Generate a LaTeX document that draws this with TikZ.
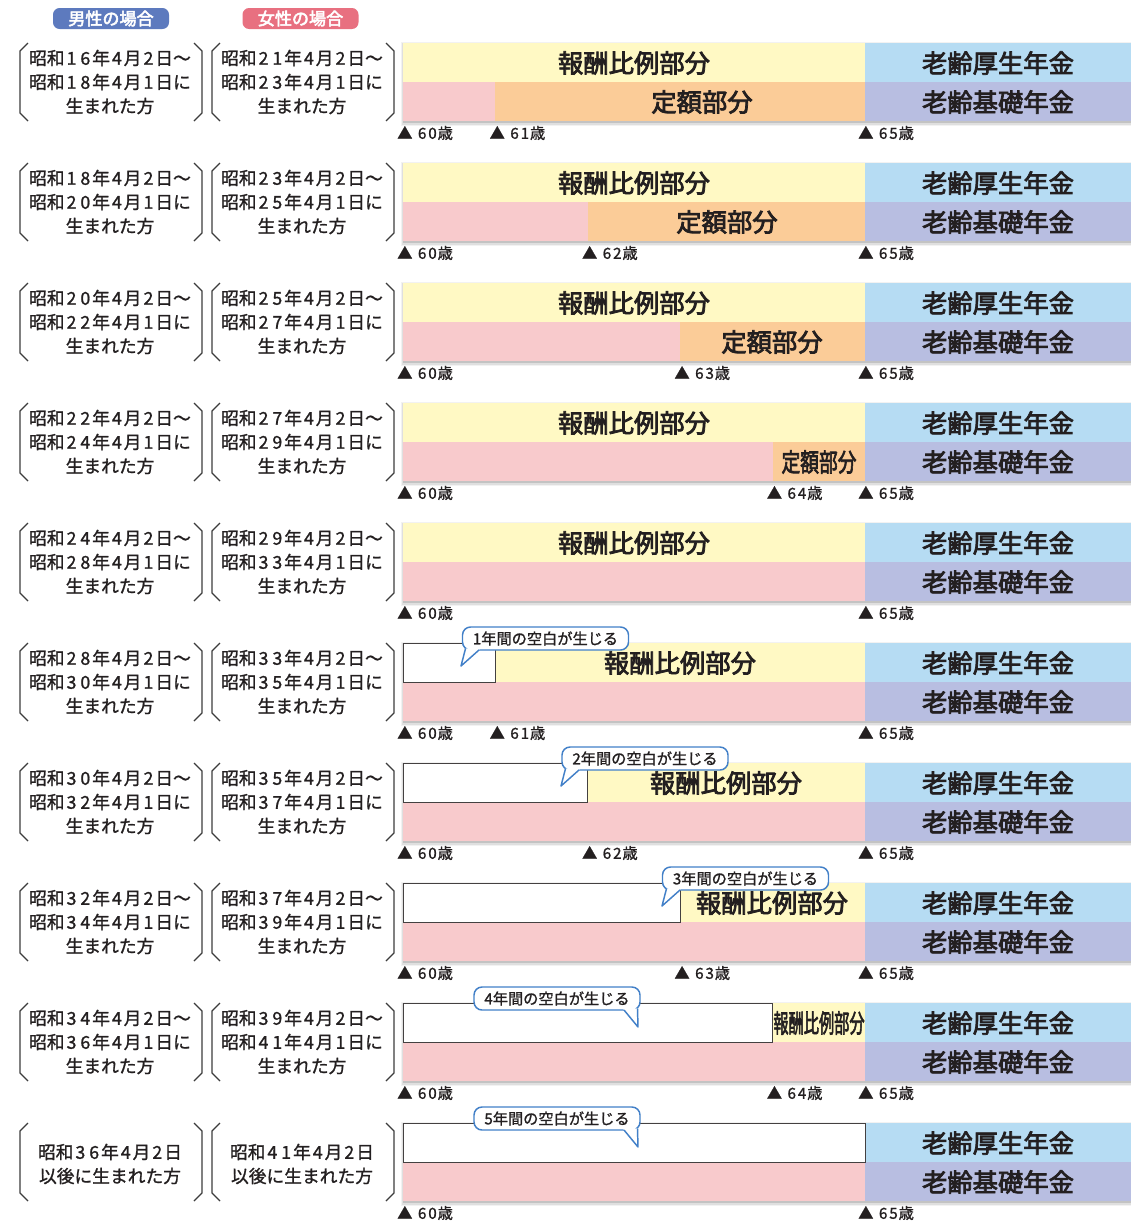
\documentclass[tikz,border=0pt]{standalone}
\usepackage{fontspec}
\usepackage{graphicx}
\setmainfont{Noto Sans CJK JP}
\newfontfamily\barfont{Noto Sans CJK JP}[FakeBold=3]
\newfontfamily\medfont{Noto Sans CJK JP}[FakeBold=1.2]
\definecolor{ink}{RGB}{35,31,32}
\definecolor{yel}{RGB}{255,249,196}
\definecolor{pnk}{RGB}{248,202,204}
\definecolor{org}{RGB}{251,204,152}
\definecolor{blu}{RGB}{182,220,243}
\definecolor{lav}{RGB}{184,190,225}
\definecolor{pillb}{RGB}{93,122,190}
\definecolor{pillp}{RGB}{232,112,128}
\definecolor{cob}{RGB}{66,128,200}
\definecolor{brkc}{RGB}{60,60,60}
\newcommand\dg[2][0.78em]{\makebox[#1]{#2}}
\newcommand\twodg[2]{\dg{#1}\dg{#2}}
\newcommand\agetxt[2]{▲\hspace{0.3em}\dg[0.68em]{#1}\dg[0.68em]{#2}歳}
\newcommand\calloutL[5]{%
  \node[callout] (#1) at ({(#2+#3)/2},#4-4.5) {#5};
  \fill[white] (#2+3.5,#4+5.6) -- (#2+8,#4+5) -- (#2+18,#4+5) -- (#2+17,#4+7) -- (#2-1,#4+23) -- cycle;
  \draw[tail] (#2+3.5,#4+5.6) -- (#2-1,#4+23) -- (#2+17,#4+7);
}
\newcommand\calloutR[5]{%
  \node[callout] (#1) at ({(#2+#3)/2},#4-4.5) {#5};
  \fill[white] (#3-3.5,#4+5.6) -- (#3-8,#4+5) -- (#3-18,#4+5) -- (#3-17,#4+7) -- (#3-3,#4+24) -- cycle;
  \draw[tail] (#3-3.5,#4+5.6) -- (#3-3,#4+24) -- (#3-17,#4+7);
}
\begin{document}
\begin{tikzpicture}[x=0.75pt,y=-0.75pt,
  barlbl/.style={font=\barfont\fontsize{19}{22}\selectfont,text=ink,inner sep=0pt},
  lefttxt/.style={font=\medfont\fontsize{13.3}{18}\selectfont,text=ink,align=center,inner sep=0pt},
  agelbl/.style={font=\medfont\fontsize{11.4}{12}\selectfont,text=ink,anchor=west,inner sep=0pt},
  pill/.style={rounded corners=5pt,minimum width=87pt,minimum height=15.75pt,inner sep=0pt,text=white,font=\barfont\fontsize{12.8}{14}\selectfont},
  callout/.style={draw=cob,line width=1.1pt,fill=white,rounded corners=6pt,minimum width=124.5pt,minimum height=17.25pt,inner sep=0pt,text=ink,font=\medfont\fontsize{11.4}{12}\selectfont},
  tail/.style={draw=cob,line width=1.1pt,line join=round},
  brk/.style={draw=brkc,line width=0.9pt},
  gapbox/.style={draw=ink!85,line width=0.75pt,fill=white},
]
\useasboundingbox (0,0) rectangle (1131,1225);
\fill[white] (0,0) rectangle (1131,1225);

% header pills
\node[pill,fill=pillb] (male) at (111,18.5) {男性の場合};
\node[pill,fill=pillp] (female) at (300.5,18.5) {女性の場合};

% common parts of each row
\foreach \i in {0,...,9}{
  \pgfmathsetmacro\T{43+120*\i}
  \fill[black,opacity=0.05] (401,\T-1) rectangle (1131,\T+83);
  \fill[black,opacity=0.08] (402,\T) rectangle (1131,\T+81.5);
  \fill[black,opacity=0.12] (403,\T+1) rectangle (1131,\T+80);
  \fill[pnk] (403,\T+39) rectangle (865,\T+78);
  \fill[blu] (865,\T) rectangle (1131,\T+39);
  \fill[lav] (865,\T+39) rectangle (1131,\T+78);
  \node[barlbl] (kosei\i) at (998,\T+20) {老齢厚生年金};
  \node[barlbl] (kiso\i) at (998,\T+59) {老齢基礎年金};
  \node[agelbl] (agesixty\i) at (397,\T+90) {\agetxt60};
  \node[agelbl] (agesixtyfive\i) at (858,\T+90) {\agetxt65};
  \draw[brk] (28,\T) -- (20,\T+8) -- (20,\T+70) -- (28,\T+78);
  \draw[brk] (194,\T) -- (202,\T+8) -- (202,\T+70) -- (194,\T+78);
  \draw[brk] (220,\T) -- (212,\T+8) -- (212,\T+70) -- (220,\T+78);
  \draw[brk] (386,\T) -- (394,\T+8) -- (394,\T+70) -- (386,\T+78);
}

% full yellow rows
\foreach \i in {0,...,4}{
  \pgfmathsetmacro\T{43+120*\i}
  \fill[yel] (403,\T) rectangle (865,\T+39);
  \node[barlbl] (hirei\i) at (634,\T+20) {報酬比例部分};
}

% fixed part (orange)
\foreach \i/\xo in {0/495.4,1/587.8,2/680.2,3/772.6}{
  \pgfmathsetmacro\T{43+120*\i}
  \fill[org] (\xo,\T+39) rectangle (865,\T+78);
}
\node[barlbl] (teigaku0) at (702,102) {定額部分};
\node[barlbl] (teigaku1) at (727,222) {定額部分};
\node[barlbl] (teigaku2) at (772,342) {定額部分};
\node[barlbl] (teigaku3) at (819,462) {\scalebox{0.74}[1]{定額部分}};

% rows with gap
\foreach \i/\xo in {5/495.4,6/587.8,7/680.2,8/772.6}{
  \pgfmathsetmacro\T{43+120*\i}
  \fill[yel] (\xo,\T) rectangle (865,\T+39);
  \draw[gapbox] (403,\T) rectangle (\xo,\T+39);
}
\draw[gapbox] (403,1123) rectangle (865,1162);
\node[barlbl] (hirei5) at (680,663) {報酬比例部分};
\node[barlbl] (hirei6) at (726,783) {報酬比例部分};
\node[barlbl] (hirei7) at (772,903) {報酬比例部分};
\node[barlbl] (hirei8) at (819,1023) {\scalebox{0.6}[1]{報酬比例部分}};

% middle age labels
\foreach \i/\a/\xo in {0/1/495.4,1/2/587.8,2/3/680.2,3/4/772.6,5/1/495.4,6/2/587.8,7/3/680.2,8/4/772.6}{
  \pgfmathsetmacro\T{43+120*\i}
  \node[agelbl] (agemid\i) at (\xo-6,\T+90) {\agetxt6\a};
}

% left texts
\foreach \i/\ma/\mb/\fa/\fb in {0/16/18/21/23,1/18/20/23/25,2/20/22/25/27,3/22/24/27/29,4/24/28/29/33,5/28/30/33/35,6/30/32/35/37,7/32/34/37/39,8/34/36/39/41}{
  \pgfmathsetmacro\T{43+120*\i}
  \node[lefttxt] (maletxt\i) at (110,\T+39) {昭和{\expandafter\twodg\ma}年\dg4月\dg2日～\\昭和{\expandafter\twodg\mb}年\dg4月\dg1日に\\生まれた方};
  \node[lefttxt] (femaletxt\i) at (302,\T+39) {昭和{\expandafter\twodg\fa}年\dg4月\dg2日～\\昭和{\expandafter\twodg\fb}年\dg4月\dg1日に\\生まれた方};
}
\node[lefttxt] (maletxt9) at (110,1164) {昭和\dg3\dg6年\dg4月\dg2日\\以後に生まれた方};
\node[lefttxt] (femaletxt9) at (302,1164) {昭和\dg4\dg1年\dg4月\dg2日\\以後に生まれた方};

% callouts
\calloutL{gap5}{462}{629}{643}{1年間の空白が生じる}
\calloutL{gap6}{562}{728}{763}{2年間の空白が生じる}
\calloutL{gap7}{663}{828}{883}{3年間の空白が生じる}
\calloutR{gap8}{473}{641}{1003}{4年間の空白が生じる}
\calloutR{gap9}{473}{641}{1123}{5年間の空白が生じる}
\end{tikzpicture}
\end{document}
